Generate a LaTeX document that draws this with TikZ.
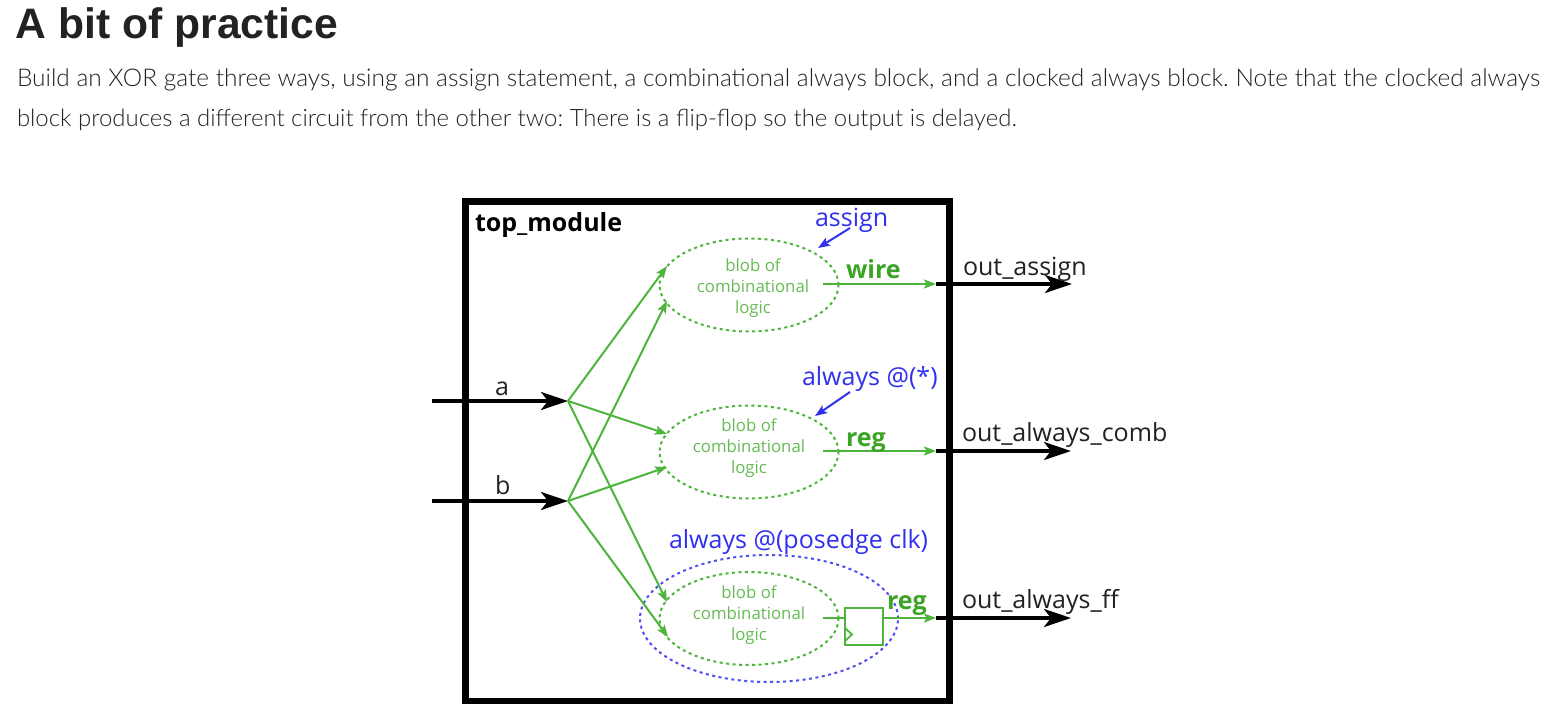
\documentclass[tikz,border=0pt]{standalone}
\usepackage{fontspec}
\setmainfont{Open Sans}
\newfontfamily\headf{Liberation Sans}[BoldFont={Liberation Sans Bold}]
\newfontfamily\bodyf{Lato Light}
\usetikzlibrary{arrows.meta,shapes.geometric}
\definecolor{gr}{HTML}{4DB53C}
\definecolor{grt}{HTML}{66BB55}
\definecolor{grb}{HTML}{3BA325}
\definecolor{bl}{HTML}{3030F0}
\definecolor{ink}{HTML}{222222}
\frenchspacing
\tikzset{
 lbl/.style={anchor=base west,inner sep=0pt,outer sep=0pt},
 bodytext/.style={lbl,text=ink},
 blacktext/.style={lbl,font=\fontsize{25}{29}\selectfont,text=ink},
 bluetext/.style={lbl,font=\fontsize{25}{29}\selectfont,text=bl},
 wiretext/.style={lbl,font=\bfseries\fontsize{25}{29}\selectfont,text=grb},
 blobtext/.style={anchor=center,inner sep=0pt,align=center,text=grt,font=\fontsize{16.8}{21}\selectfont},
 blob/.style={ellipse,draw=gr,line width=2pt,dash pattern=on 3pt off 3.5pt,inner sep=0pt,minimum width=179pt,minimum height=93pt},
 blueblob/.style={ellipse,draw=bl!85,line width=2pt,dash pattern=on 3pt off 3.5pt,inner sep=0pt,minimum width=258pt,minimum height=127pt},
 sig/.style={draw=black,line width=3.4pt,-{Stealth[length=27pt,width=18pt,inset=7pt]}},
 garrow/.style={draw=gr,line width=2pt,-{Stealth[length=12pt,width=9pt,inset=2.5pt]}},
 barrow/.style={draw=bl,line width=2pt,-{Stealth[length=12pt,width=9pt,inset=2.5pt]}},
 ffbox/.style={draw=gr,line width=2pt,inner sep=0pt,minimum width=38pt,minimum height=37pt,rectangle},
}
\begin{document}
\begin{tikzpicture}[x=1pt,y=-1pt]
\useasboundingbox[fill=white] (0,0) rectangle (1561,717);
% heading and paragraph
\node[lbl,font=\headf\bfseries\fontsize{42.6}{46}\selectfont,text=ink] (title) at (16,39) {A bit of practice};
\node[bodytext,font=\bodyf\fontsize{24.45}{28}\selectfont] (p1) at (17,87) {Build an XOR gate three ways, using an assign statement, a combinational always block, and a clocked always block. Note that the clocked always};
\node[bodytext,font=\bodyf\fontsize{23.95}{28}\selectfont] (p2) at (17,126) {block produces a different circuit from the other two: There is a flip-flop so the output is delayed.};
% module box
\node[draw=black,line width=6.5pt,rectangle,inner sep=0pt,minimum width=484pt,minimum height=499.5pt] (top) at (707.5,451.25) {};
\node[lbl,font=\bfseries\fontsize{25}{29}\selectfont,text=black] (topl) at (475,231) {top\_module};
% blobs
\node[blob] (b1) at (749,285) {};
\node[blob] (b2) at (749,452) {};
\node[blob] (b3) at (749,618.5) {};
\node[blueblob] (b4) at (769,618.5) {};
\node[blobtext] (t1) at (753,288.5) {blob of\\combinational\\logic};
\node[blobtext] (t2) at (749,448.5) {blob of\\combinational\\logic};
\node[blobtext] (t3) at (749,615.5) {blob of\\combinational\\logic};
% flip-flop
\node[ffbox] (ff) at (864,626.5) {};
\coordinate (ckt) at (845,628);
\coordinate (ckm) at (852,634.5);
\coordinate (ckb) at (845,641);
\draw[draw=gr,line width=1.8pt] (ckt) -- (ckm) -- (ckb);
% coordinates
\coordinate (ain) at (432,401);
\coordinate (aj) at (568,401);
\coordinate (bin) at (432,501);
\coordinate (bj) at (568,501);
\coordinate (e1a) at (667,266);
\coordinate (e1b) at (667,301);
\coordinate (e2a) at (667,434);
\coordinate (e2b) at (667,467);
\coordinate (e3a) at (667,602);
\coordinate (e3b) at (668,637);
\coordinate (o1s) at (823,284);
\coordinate (o1m) at (936,284);
\coordinate (o1e) at (1072,284);
\coordinate (o2s) at (823,451);
\coordinate (o2m) at (936,451);
\coordinate (o2e) at (1071,451);
\coordinate (o3s) at (823,618);
\coordinate (o3a) at (845,618);
\coordinate (o3b) at (883,618);
\coordinate (o3m) at (936,618);
\coordinate (o3e) at (1071,618);
\coordinate (as1) at (850,228);
\coordinate (as2) at (818,248);
\coordinate (al1) at (850,392);
\coordinate (al2) at (815,416);
% black signals
\draw[sig] (ain) -- (aj);
\draw[sig] (bin) -- (bj);
\draw[sig] (o1m) -- (o1e);
\draw[sig] (o2m) -- (o2e);
\draw[sig] (o3m) -- (o3e);
% green connections
\draw[garrow] (aj) -- (e1a);
\draw[garrow] (aj) -- (e2a);
\draw[garrow] (aj) -- (e3a);
\draw[garrow] (bj) -- (e1b);
\draw[garrow] (bj) -- (e2b);
\draw[garrow] (bj) -- (e3b);
\draw[garrow] (o1s) -- (o1m);
\draw[garrow] (o2s) -- (o2m);
\draw[draw=gr,line width=2pt] (o3s) -- (o3a);
\draw[garrow] (o3b) -- (o3m);
% blue arrows
\draw[barrow] (as1) -- (as2);
\draw[barrow] (al1) -- (al2);
% labels
\node[blacktext] (la) at (495,395) {a};
\node[blacktext] (lb) at (495,494) {b};
\node[blacktext] (lo1) at (963,275) {out\_assign};
\node[blacktext] (lo2) at (962,441) {out\_always\_comb};
\node[blacktext] (lo3) at (962,608) {out\_always\_ff};
\node[bluetext] (lba) at (815,226) {assign};
\node[bluetext] (lbb) at (802,385) {always @(*)};
\node[bluetext] (lbc) at (669,548) {always @(posedge clk)};
\node[wiretext] (lw) at (846,278) {wire};
\node[wiretext] (lr1) at (846,446) {reg};
\node[wiretext] (lr2) at (887,609) {reg};
\end{tikzpicture}
\end{document}
